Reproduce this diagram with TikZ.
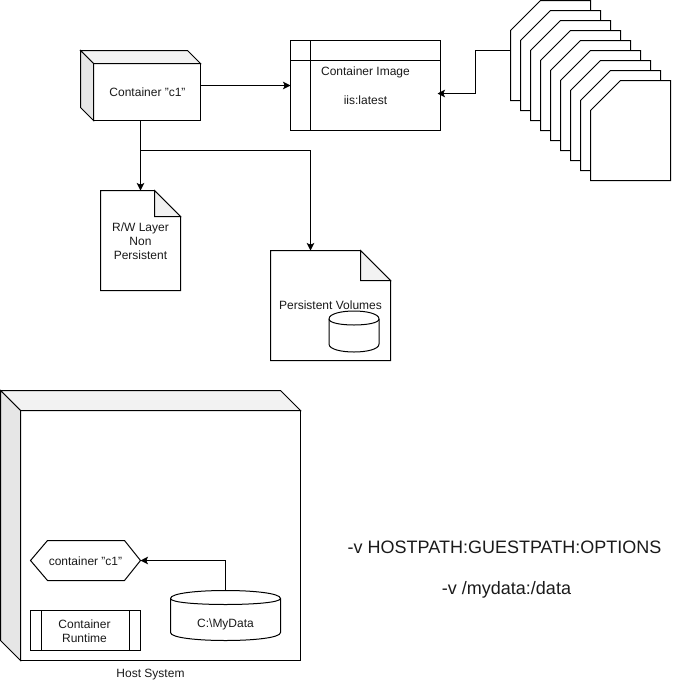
\documentclass[tikz,border=0pt]{standalone}
\usepackage{fontspec}
\setmainfont{Liberation Sans}
\usetikzlibrary{arrows.meta,calc}
\definecolor{txt}{HTML}{1A1A1A}
\definecolor{shadeA}{HTML}{E6E6E6}
\definecolor{shadeB}{HTML}{F2F2F2}
\tikzset{
  ln/.style={draw=black,line width=0.75pt,line join=miter},
  sz/.style 2 args={minimum width=#1*0.75pt,minimum height=#2*0.75pt,inner sep=0pt,outer sep=0pt},
  boxn/.style={ln,fill=white},
  ghost/.style={draw=none,inner sep=0pt,outer sep=0pt},
  lab/.style={inner sep=0pt,outer sep=0pt,text=txt,font=\fontsize{9}{10.5}\selectfont,align=center},
  biglab/.style={inner sep=0pt,outer sep=0pt,text=txt,font=\fontsize{13.5}{16}\selectfont},
  arr/.style={ln,-{Stealth[length=5.6pt,width=5.6pt,inset=1.2pt]}},
}
\begin{document}
\begin{tikzpicture}[x=0.75pt,y=-0.75pt]
\useasboundingbox (-0.5,-0.5) rectangle (680.5,681.5);

% Container c1 (cube)
\node[ghost,sz={120}{70}] (c1) at (140,85) {};
\node[boxn,sz={107}{57}] (c1front) at (146.5,91.5) {};
\path[ln,fill=shadeB] (c1front.north west) -- ++(-13,-13) -- ++(107,0) -- (c1front.north east) -- cycle;
\path[ln,fill=shadeA] (c1front.north west) -- ++(-13,-13) -- ++(0,57) -- (c1front.south west) -- cycle;
\node[lab] (c1text) at (147,92) {Container \symbol{34}c1\symbol{34}};

% Container image
\node[boxn,sz={150}{90}] (image) at (365,85) {};
\draw[ln] ($(image.north west)+(20,0)$) -- ($(image.south west)+(20,0)$);
\draw[ln] ($(image.north west)+(0,20)$) -- ($(image.north east)+(0,20)$);
\node[lab] (imagetext) at (365,72) {Container Image};
\node[lab] (imagetag) at (365,100) {iis:latest};
\coordinate (imgin) at (437,93);

% Stack of cards
\foreach \i in {0,...,8}{
  \node[ghost,sz={80}{100}] (card\i) at ({550+10*\i},{50+10*\i}) {};
  \path[ln,fill=white] ($(card\i.north west)+(30,0)$) -- (card\i.north east) -- (card\i.south east)
     -- (card\i.south west) -- ($(card\i.north west)+(0,30)$) -- cycle;
}

% R/W layer note
\node[ghost,sz={80}{100}] (rw) at (140,240) {};
\path[ln,fill=white] (rw.north west) -- ($(rw.north east)+(-26,0)$) -- ($(rw.north east)+(0,26)$)
   -- (rw.south east) -- (rw.south west) -- cycle;
\path[ln,fill=shadeB] ($(rw.north east)+(-26,0)$) -- ($(rw.north east)+(-26,26)$) -- ($(rw.north east)+(0,26)$) -- cycle;
\node[lab] (rwtext) at (140,241) {R/W Layer\\Non\\Persistent};

% Persistent volumes note
\node[ghost,sz={120}{110}] (pv) at (330,305) {};
\path[ln,fill=white] (pv.north west) -- ($(pv.north east)+(-30,0)$) -- ($(pv.north east)+(0,30)$)
   -- (pv.south east) -- (pv.south west) -- cycle;
\path[ln,fill=shadeB] ($(pv.north east)+(-30,0)$) -- ($(pv.north east)+(-30,30)$) -- ($(pv.north east)+(0,30)$) -- cycle;
\node[lab] (pvtext) at (330,305) {Persistent Volumes};
\coordinate (pvin) at (310,250);

% Small cylinder
\node[ghost,sz={50}{41}] (pvdisk) at (353.5,331) {};
\path[ln,fill=white] ($(pvdisk.north west)+(0,8)$) .. controls ($(pvdisk.north west)+(0,-2.67)$) and ($(pvdisk.north east)+(0,-2.67)$) .. ($(pvdisk.north east)+(0,8)$)
   -- ($(pvdisk.south east)+(0,-8)$) .. controls ($(pvdisk.south east)+(0,2.67)$) and ($(pvdisk.south west)+(0,2.67)$) .. ($(pvdisk.south west)+(0,-8)$) -- cycle;
\draw[ln] ($(pvdisk.north west)+(0,8)$) .. controls ($(pvdisk.north west)+(0,16)$) and ($(pvdisk.north east)+(0,16)$) .. ($(pvdisk.north east)+(0,8)$);

% Connectors, top part
\coordinate (split) at (140,150);
\draw[arr] (c1.east) -- (image.west);
\draw[arr] (c1.south) -- (rw.north);
\draw[arr] (split) -| (pvin);
\coordinate (stackbend) at (475,50);
\draw[arr] (card0.west) -- (stackbend) |- (imgin);

% Host system (cube)
\node[boxn,sz={280}{250}] (host) at (160,535) {};
\path[ln,fill=shadeB] (host.north west) -- ++(-20,-20) -- ++(280,0) -- (host.north east) -- cycle;
\path[ln,fill=shadeA] (host.north west) -- ++(-20,-20) -- ++(0,250) -- (host.south west) -- cycle;
\node[lab] (hosttext) at (150,674) {Host System};

% Hexagon
\node[ghost,sz={110}{40}] (hex) at (85,560) {};
\path[ln,fill=white] (hex.west) -- ($(hex.north west)+(17,0)$) -- ($(hex.north east)+(-16,0)$) -- (hex.east)
   -- ($(hex.south east)+(-16,0)$) -- ($(hex.south west)+(17,0)$) -- cycle;
\node[lab] (hextext) at (85,561) {container \symbol{34}c1\symbol{34}};

% Runtime
\node[boxn,sz={110}{40}] (runtime) at (85,630) {};
\draw[ln] ($(runtime.north west)+(11,0)$) -- ($(runtime.south west)+(11,0)$);
\draw[ln] ($(runtime.north east)+(-11,0)$) -- ($(runtime.south east)+(-11,0)$);
\node[lab] (runtimetext) at (84,631) {Container\\Runtime};

% Host disk
\node[ghost,sz={110}{50}] (disk) at (225,615) {};
\path[ln,fill=white] ($(disk.north west)+(0,8)$) .. controls ($(disk.north west)+(0,-2.67)$) and ($(disk.north east)+(0,-2.67)$) .. ($(disk.north east)+(0,8)$)
   -- ($(disk.south east)+(0,-8)$) .. controls ($(disk.south east)+(0,2.67)$) and ($(disk.south west)+(0,2.67)$) .. ($(disk.south west)+(0,-8)$) -- cycle;
\draw[ln] ($(disk.north west)+(0,8)$) .. controls ($(disk.north west)+(0,16)$) and ($(disk.north east)+(0,16)$) .. ($(disk.north east)+(0,8)$);
\node[lab] (disktext) at (225,624) {C:\textbackslash MyData};
\draw[arr] (disk.north) |- (hex.east);

% Command text
\node[biglab] (cmdA) at (504,547) {-v HOSTPATH:GUESTPATH:OPTIONS};
\node[biglab] (cmdB) at (506,589) {-v /mydata:/data};
\end{tikzpicture}
\end{document}
